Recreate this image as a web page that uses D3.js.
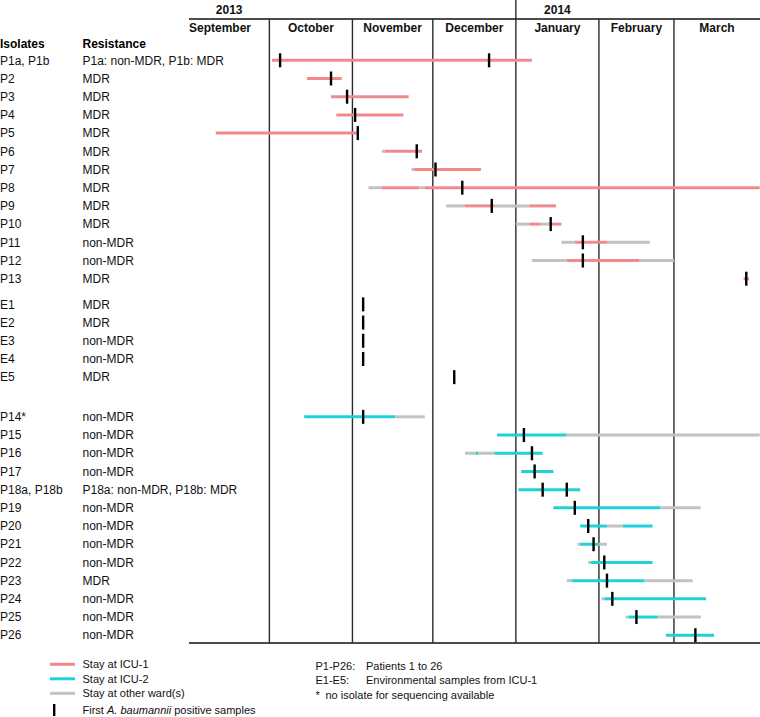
<!DOCTYPE html>
<html>
<head>
<meta charset="utf-8">
<script src="https://cdn.jsdelivr.net/npm/d3@7"></script>
<style>
  html, body { margin: 0; padding: 0; background: #fff; }
  svg { display: block; font-family: "Liberation Sans", Arial, Helvetica, sans-serif; }
</style>
</head>
<body>
<svg id="chart" width="760" height="717"></svg>
<script>
// ---------------- data ----------------
const yearLabels = ["2013", "2014"];
const monthLabels = ["September", "October", "November", "December", "January", "February", "March"];
const periodStart = "2013-09-01";
const periodEnd = "2014-04-01";

const isolates = [
  "P1a, P1b", "P2", "P3", "P4", "P5", "P6", "P7", "P8", "P9", "P10", "P11", "P12", "P13",
  "E1", "E2", "E3", "E4", "E5",
  "P14*", "P15", "P16", "P17", "P18a, P18b", "P19", "P20", "P21", "P22", "P23", "P24", "P25", "P26"
];
const resistance = [
  "P1a: non-MDR, P1b: MDR", "MDR", "MDR", "MDR", "MDR", "MDR", "MDR", "MDR", "MDR", "MDR", "non-MDR", "non-MDR", "MDR",
  "MDR", "MDR", "non-MDR", "non-MDR", "MDR",
  "non-MDR", "non-MDR", "non-MDR", "non-MDR", "P18a: non-MDR, P18b: MDR", "non-MDR", "non-MDR", "non-MDR", "non-MDR", "MDR", "non-MDR", "non-MDR", "non-MDR"
];
const rowGroup = [
  0, 0, 0, 0, 0, 0, 0, 0, 0, 0, 0, 0, 0,
  1, 1, 1, 1, 1,
  2, 2, 2, 2, 2, 2, 2, 2, 2, 2, 2, 2, 2
];

// stays: [start, end, ward] per row
const stays = [
  [["2013-10-02", "2014-01-07", "ICU-1"]],
  [["2013-10-15", "2013-10-28", "ICU-1"]],
  [["2013-10-24", "2013-11-22", "ICU-1"]],
  [["2013-10-26", "2013-11-20", "ICU-1"]],
  [["2013-09-11", "2013-11-03", "ICU-1"]],
  [["2013-11-12", "2013-11-13", "other"], ["2013-11-13", "2013-11-27", "ICU-1"]],
  [["2013-11-23", "2013-11-24", "other"], ["2013-11-24", "2013-12-19", "ICU-1"]],
  [["2013-11-07", "2013-11-12", "other"], ["2013-11-12", "2013-11-26", "ICU-1"], ["2013-11-26", "2013-11-28", "other"], ["2013-11-28", "2014-04-02", "ICU-1"]],
  [["2013-12-06", "2013-12-13", "other"], ["2013-12-13", "2013-12-24", "ICU-1"], ["2013-12-24", "2014-01-06", "other"], ["2014-01-06", "2014-01-16", "ICU-1"]],
  [["2014-01-01", "2014-01-06", "other"], ["2014-01-06", "2014-01-10", "ICU-1"], ["2014-01-10", "2014-01-14", "other"], ["2014-01-14", "2014-01-18", "ICU-1"]],
  [["2014-01-18", "2014-01-23", "other"], ["2014-01-23", "2014-02-04", "ICU-1"], ["2014-02-04", "2014-02-20", "other"]],
  [["2014-01-07", "2014-01-20", "other"], ["2014-01-20", "2014-02-16", "ICU-1"], ["2014-02-16", "2014-03-01", "other"]],
  [["2014-03-27", "2014-03-29", "ICU-1"]],
  [], [], [], [], [],
  [["2013-10-14", "2013-11-17", "ICU-2"], ["2013-11-17", "2013-11-28", "other"]],
  [["2013-12-25", "2014-01-20", "ICU-2"], ["2014-01-20", "2014-04-02", "other"]],
  [["2013-12-13", "2013-12-17", "other"], ["2013-12-17", "2013-12-18", "ICU-2"], ["2013-12-18", "2013-12-24", "other"], ["2013-12-24", "2014-01-11", "ICU-2"]],
  [["2014-01-03", "2014-01-15", "ICU-2"]],
  [["2014-01-02", "2014-01-25", "ICU-2"]],
  [["2014-01-15", "2014-02-24", "ICU-2"], ["2014-02-24", "2014-03-11", "other"]],
  [["2014-01-25", "2014-02-04", "ICU-2"], ["2014-02-04", "2014-02-10", "other"], ["2014-02-10", "2014-02-21", "ICU-2"]],
  [["2014-01-24", "2014-01-25", "other"], ["2014-01-25", "2014-02-01", "ICU-2"], ["2014-02-01", "2014-02-04", "other"]],
  [["2014-01-28", "2014-01-29", "other"], ["2014-01-29", "2014-02-21", "ICU-2"]],
  [["2014-01-20", "2014-01-22", "other"], ["2014-01-22", "2014-02-18", "ICU-2"], ["2014-02-18", "2014-03-08", "other"]],
  [["2014-02-02", "2014-02-03", "other"], ["2014-02-03", "2014-03-13", "ICU-2"]],
  [["2014-02-11", "2014-02-12", "other"], ["2014-02-12", "2014-02-23", "ICU-2"], ["2014-02-23", "2014-03-11", "other"]],
  [["2014-02-26", "2014-03-16", "ICU-2"]]
];

// first A. baumannii positive samples per row
const firstPositive = [
  ["2013-10-05", "2013-12-22"], ["2013-10-24"], ["2013-10-30"], ["2013-11-02"], ["2013-11-03"],
  ["2013-11-25"], ["2013-12-02"], ["2013-12-12"], ["2013-12-23"], ["2014-01-14"],
  ["2014-01-26"], ["2014-01-26"], ["2014-03-28"],
  ["2013-11-05"], ["2013-11-05"], ["2013-11-05"], ["2013-11-05"], ["2013-12-09"],
  ["2013-11-05"], ["2014-01-04"], ["2014-01-07"], ["2014-01-08"], ["2014-01-11", "2014-01-20"],
  ["2014-01-23"], ["2014-01-28"], ["2014-01-30"], ["2014-02-03"], ["2014-02-04"],
  ["2014-02-06"], ["2014-02-15"], ["2014-03-09"]
];

const wardNames = ["ICU-1", "ICU-2", "other"];
const wardLegend = ["Stay at ICU-1", "Stay at ICU-2", "Stay at other ward(s)"];
const wardColors = ["#f28a8c", "#1fd2d8", "#c2c2c2"];
const notesKey = ["P1-P26:", "E1-E5:"];
const notesText = ["Patients 1 to 26", "Environmental samples from ICU-1"];

// ---------------- layout ----------------
const parse = d3.utcParse("%Y-%m-%d");
const svg = d3.select("#chart");
const x0 = 189, x1 = 757, xEdge = 760;
const headerLineY = 19, bottomY = 643;
const x = d3.scaleUtc().domain([parse(periodStart), parse(periodEnd)]).range([x0, x1]);

const groupGap = [0, 0.41, 1.59];
const slot = rowGroup.map((g, i) => i + groupGap[g]);
const y = d3.scaleLinear().domain([0, 30 + groupGap[2]]).range([60.3, 60.3 + (30 + groupGap[2]) * 18.2]);
const color = d3.scaleOrdinal().domain(wardNames).range(wardColors);

// header
const months = d3.utcMonth.range(parse(periodStart), parse(periodEnd));
const monthEnds = months.map(m => d3.utcMonth.offset(m, 1));

svg.append("line").attr("x1", x0).attr("x2", xEdge).attr("y1", headerLineY).attr("y2", headerLineY)
  .attr("stroke", "#111").attr("stroke-width", 1.3);
svg.append("line").attr("x1", x0).attr("x2", xEdge).attr("y1", bottomY).attr("y2", bottomY)
  .attr("stroke", "#111").attr("stroke-width", 1.3);

svg.append("g").selectAll("line").data(months.slice(1)).join("line")
  .attr("x1", d => x(d)).attr("x2", d => x(d))
  .attr("y1", d => d.getUTCMonth() === 0 ? 0 : headerLineY)
  .attr("y2", bottomY)
  .attr("stroke", "#2a2a2a").attr("stroke-width", 1.4);

svg.append("g").selectAll("text").data(months).join("text")
  .attr("x", (d, i) => i === 0 ? x(d) : (x(d) + (i === months.length - 1 ? xEdge : x(monthEnds[i]))) / 2)
  .attr("y", 32)
  .attr("text-anchor", (d, i) => i === 0 ? "start" : "middle")
  .attr("font-size", 12).attr("font-weight", "bold").attr("fill", "#111")
  .text((d, i) => monthLabels[i]);

const yearStarts = months.filter((d, i) => i === 0 || d.getUTCMonth() === 0);
svg.append("g").selectAll("text").data(yearStarts).join("text")
  .attr("x", d => (x(d) + x(d3.utcMonth.offset(d, 1))) / 2)
  .attr("y", 14)
  .attr("text-anchor", "middle")
  .attr("font-size", 12).attr("font-weight", "bold").attr("fill", "#111")
  .text((d, i) => yearLabels[i]);

// column headers
svg.append("text").attr("x", 0).attr("y", 48).attr("font-size", 12).attr("font-weight", "bold").text("Isolates");
svg.append("text").attr("x", 82.5).attr("y", 48).attr("font-size", 12).attr("font-weight", "bold").text("Resistance");

// row labels
const rows = svg.append("g");
rows.selectAll("text.iso").data(isolates).join("text").attr("class", "iso")
  .attr("x", 0).attr("y", (d, i) => y(slot[i])).attr("dy", "0.35em")
  .attr("font-size", 12).attr("fill", "#111").text(d => d);
rows.selectAll("text.res").data(resistance).join("text").attr("class", "res")
  .attr("x", 82.5).attr("y", (d, i) => y(slot[i])).attr("dy", "0.35em")
  .attr("font-size", 12).attr("fill", "#111").text(d => d);

// stays
const segs = stays.flatMap((list, i) => list.map(s => ({ row: i, start: parse(s[0]), end: parse(s[1]), ward: s[2] })));
svg.append("g").selectAll("line").data(segs).join("line")
  .attr("x1", d => x(d.start)).attr("x2", d => x(d.end))
  .attr("y1", d => y(slot[d.row])).attr("y2", d => y(slot[d.row]))
  .attr("stroke", d => color(d.ward)).attr("stroke-width", 3);

// first positives
const marks = firstPositive.flatMap((list, i) => list.map(s => ({ row: i, date: parse(s) })));
svg.append("g").selectAll("rect").data(marks).join("rect")
  .attr("x", d => x(d.date) - 1.2).attr("width", 2.4)
  .attr("y", d => y(slot[d.row]) - 7).attr("height", 14)
  .attr("fill", "#000");

// legend
const lg = svg.append("g");
lg.selectAll("line").data(wardNames).join("line")
  .attr("x1", 50).attr("x2", 75)
  .attr("y1", (d, i) => 664.3 + i * 14.5).attr("y2", (d, i) => 664.3 + i * 14.5)
  .attr("stroke", d => color(d)).attr("stroke-width", 3);
lg.selectAll("text.w").data(wardLegend).join("text").attr("class", "w")
  .attr("x", 82.5).attr("y", (d, i) => 664.3 + i * 14.5).attr("dy", "0.35em")
  .attr("font-size", 11).attr("fill", "#111").text(d => d);
lg.append("rect").attr("x", 53).attr("y", 704).attr("width", 2.4).attr("height", 12).attr("fill", "#000");
const ft = lg.append("text").attr("x", 82.5).attr("y", 664.3 + 3 * 15.3).attr("dy", "0.35em")
  .attr("font-size", 11).attr("fill", "#111");
ft.append("tspan").text("First ");
ft.append("tspan").attr("font-style", "italic").text("A. baumannii");
ft.append("tspan").text(" positive samples");

lg.selectAll("text.k").data(notesKey).join("text").attr("class", "k")
  .attr("x", 315.5).attr("y", (d, i) => 666.5 + i * 14).attr("dy", "0.35em")
  .attr("font-size", 11).attr("fill", "#111").text(d => d);
lg.selectAll("text.n").data(notesText).join("text").attr("class", "n")
  .attr("x", 366).attr("y", (d, i) => 666.5 + i * 14).attr("dy", "0.35em")
  .attr("font-size", 11).attr("fill", "#111").text(d => d);
lg.append("text").attr("x", 315.5).attr("y", 695).attr("dy", "0.35em")
  .attr("font-size", 11).attr("fill", "#111").text("*");
lg.append("text").attr("x", 325.5).attr("y", 695).attr("dy", "0.35em")
  .attr("font-size", 11).attr("fill", "#111").text("no isolate for sequencing available");
</script>
</body>
</html>
